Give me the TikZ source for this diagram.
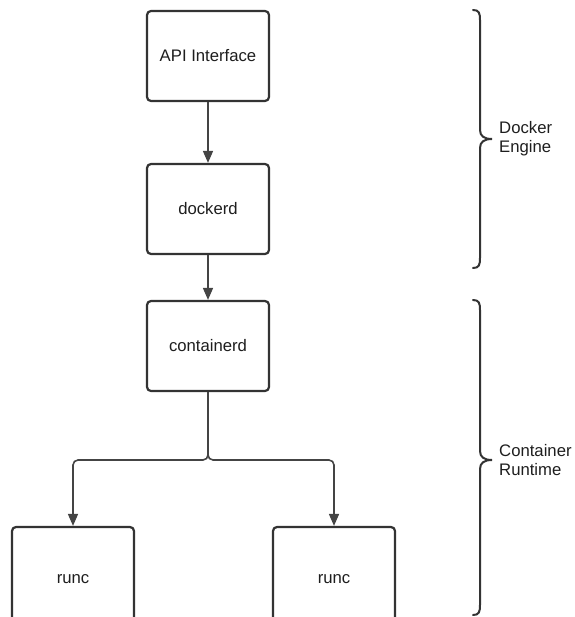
\documentclass[tikz,border=0pt]{standalone}
\usepackage{fontspec}
\setmainfont{Liberation Sans}
\usetikzlibrary{arrows.meta}
\definecolor{edge}{HTML}{333333}
\definecolor{wire}{HTML}{444444}
\definecolor{ink}{HTML}{1E1E1E}
\tikzset{
  box/.style={draw=edge, line width=2.2pt, rounded corners=4pt, minimum width=122pt,
    minimum height=90pt, inner sep=0pt, font=\fontsize{16.7pt}{19pt}\selectfont, text=ink, fill=white},
  conn/.style={draw=wire, line width=1.6pt, -{Triangle[length=12pt,width=10pt]}},
  bracestyle/.style={draw=edge, line width=2pt, line cap=round},
  lbl/.style={anchor=west, align=left, inner sep=0pt, text=ink, font=\fontsize{16.7pt}{19pt}\selectfont}
}
\begin{document}
\begin{tikzpicture}[x=1pt,y=-1pt]
\useasboundingbox (0,0) rectangle (574,617);
\clip (0,0) rectangle (574,617);
\node[box] (api) at (208,56) {API Interface};
\node[box] (dockerd) at (208,209) {dockerd};
\node[box] (containerd) at (208,346) {containerd};
\node[box, minimum height=104pt] (runcA) at (73,579) {runc};
\node[box, minimum height=104pt] (runcB) at (334,579) {runc};
\coordinate (junction) at (208,460);
\draw[conn] (api.south) -- (dockerd.north);
\draw[conn] (dockerd.south) -- (containerd.north);
\draw[conn, rounded corners=5pt] (containerd.south) -- (junction) -| (runcA.north);
\draw[conn, rounded corners=5pt] (containerd.south) -- (junction) -| (runcB.north);
% braces
\draw[bracestyle] (473,10) .. controls (479,10) and (480,13) .. (480,20) -- (480,130)
  .. controls (480,136) and (484,139) .. (492,139) .. controls (484,139) and (480,142) .. (480,148)
  -- (480,258) .. controls (480,265) and (479,268) .. (473,268);
\draw[bracestyle] (473,300) .. controls (479,300) and (480,303) .. (480,310) -- (480,451)
  .. controls (480,457) and (484,460) .. (492,460) .. controls (484,460) and (480,463) .. (480,469)
  -- (480,605) .. controls (480,612) and (479,615) .. (473,615);
\node[lbl] (engine) at (499,139) {Docker\\Engine};
\node[lbl] (runtime) at (499,460) {Container\\Runtime};
\end{tikzpicture}
\end{document}
